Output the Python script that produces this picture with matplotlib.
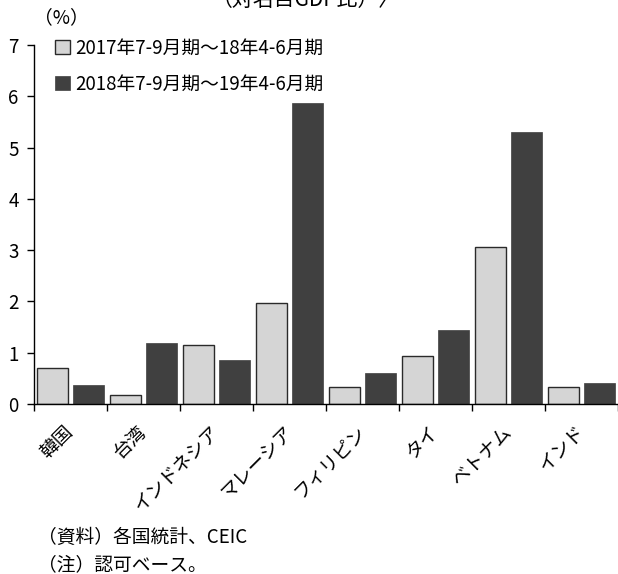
import numpy as np
import matplotlib
matplotlib.use('Agg')
import matplotlib.pyplot as plt

plt.rcParams['font.family'] = ['Noto Sans CJK JP', 'DejaVu Sans']

paises = ['韓国', '台湾', 'インドネシア', 'マレーシア', 'フィリピン', 'タイ', 'ベトナム', 'インド']
serie1 = [0.70, 0.18, 1.15, 1.97, 0.33, 0.93, 3.07, 0.33]
serie2 = [0.38, 1.19, 0.86, 5.87, 0.60, 1.45, 5.30, 0.41]
rotulos = ['2017年7-9月期～18年4-6月期', '2018年7-9月期～19年4-6月期']

fs = 13.5
x = np.arange(len(paises))

fig = plt.figure(figsize=(6.18, 5.74), dpi=100)
ax = fig.add_axes([34/618, 1-404/574, 584/618, 359/574])

ax.bar(x - 0.25, serie1, width=0.42, color='#d5d5d5', edgecolor='#2a2a2a',
       linewidth=1.0, label=rotulos[0])
ax.bar(x + 0.25, serie2, width=0.42, color='#404040', edgecolor='#404040',
       linewidth=0.5, label=rotulos[1])

ax.set_xlim(-0.5, 7.5)
ax.set_ylim(0, 7)
ax.set_yticks(range(8))
ax.tick_params(axis='y', direction='out', length=5, width=1, pad=6, labelsize=fs)

ax.set_xticks(x)
ax.set_xticklabels(paises, rotation=45, ha='right', va='center',
                   rotation_mode='anchor', fontsize=fs)
ax.tick_params(axis='x', which='major', length=0, pad=18)
ax.set_xticks(np.arange(-0.5, 8, 1), minor=True)
ax.tick_params(axis='x', which='minor', direction='out', length=5, width=1)

for s in ['top', 'right']:
    ax.spines[s].set_visible(False)
ax.spines['left'].set_linewidth(1)
ax.spines['bottom'].set_linewidth(1)

ax.legend(loc='upper left', bbox_to_anchor=(0.036, 1.02), frameon=False,
          fontsize=fs, handlelength=0.8, handleheight=0.8, handletextpad=0.3,
          labelspacing=0.8, borderpad=0, borderaxespad=0)

fig.text(34/618, 1-18/574, '（%）', fontsize=fs, ha='left', va='center')
fig.text(306/618, 1-0/574, '（対名目GDP比）〉', fontsize=15, ha='center', va='center')
fig.text(38/618, 1-537/574, '（資料）各国統計、CEIC', fontsize=fs, ha='left', va='center')
fig.text(38/618, 1-565/574, '（注）認可ベース。', fontsize=fs, ha='left', va='center')

plt.savefig('out.png', dpi=100)
